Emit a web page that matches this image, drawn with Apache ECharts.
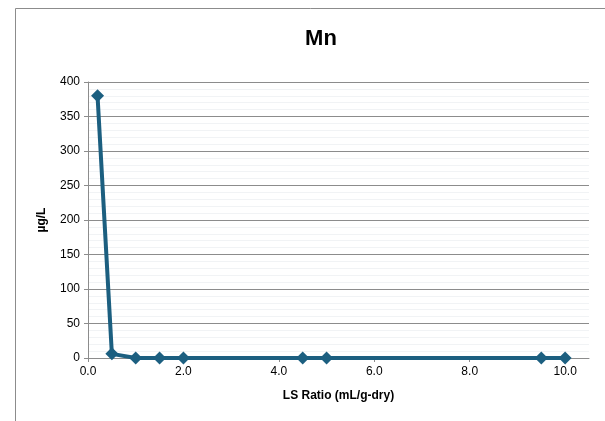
<!DOCTYPE html>
<html><head><meta charset="utf-8">
<script src="https://cdn.jsdelivr.net/npm/echarts@6/dist/echarts.min.js"></script>
<style>html,body{margin:0;padding:0;background:#fff}#c{width:605px;height:421px}</style>
</head><body><div id="c"></div>
<script>
const xValues = [0.2, 0.5, 1.0, 1.5, 2.0, 4.5, 5.0, 9.5, 10.0];
const yValues = [380, 6, 0, 0, 0, 0, 0, 0, 0];
const titleText = 'Mn';
const xName = 'LS Ratio (mL/g-dry)';
const yName = 'µg/L';

const chart = echarts.init(document.getElementById('c'), null, {renderer: 'canvas'});
const font = 'Liberation Sans, Arial, sans-serif';
chart.setOption({
  animation: false,
  backgroundColor: '#fff',
  graphic: [{type: 'rect', shape: {x: 15.5, y: 8.5, width: 620, height: 440}, style: {fill: 'none', stroke: '#8c8c8c', lineWidth: 1}, silent: true}],
  title: {text: titleText, left: 316, top: 23, textAlign: 'center',
    textStyle: {fontFamily: font, fontSize: 22, fontWeight: 'bold', color: '#000'}},
  grid: {left: 88, right: 16, top: 82, bottom: 63},
  xAxis: {type: 'value', min: 0, max: 10.5, interval: 2,
    name: xName, nameLocation: 'middle', nameGap: 32,
    nameTextStyle: {fontFamily: font, fontSize: 12, fontWeight: 'bold', color: '#000'},
    axisLine: {show: true, onZero: false, lineStyle: {color: '#8c8c8c', width: 1}},
    axisTick: {show: true, length: 4, lineStyle: {color: '#8c8c8c'}},
    axisLabel: {fontFamily: font, fontSize: 12, color: '#000', margin: 8, showMaxLabel: false,
      formatter: v => v.toFixed(1)},
    splitLine: {show: false}},
  yAxis: {type: 'value', min: 0, max: 400, interval: 50,
    name: yName, nameLocation: 'middle', nameGap: 40, nameRotate: 90,
    nameTextStyle: {fontFamily: font, fontSize: 12, fontWeight: 'bold', color: '#000'},
    axisLine: {show: true, lineStyle: {color: '#8c8c8c', width: 1}},
    axisTick: {show: true, length: 4, lineStyle: {color: '#8c8c8c'}},
    axisLabel: {fontFamily: font, fontSize: 12, color: '#000', margin: 8},
    splitLine: {show: true, lineStyle: {color: '#8c8c8c', width: 1}},
    minorTick: {show: false, splitNumber: 5},
    minorSplitLine: {show: true, lineStyle: {color: '#f1f3f5', width: 1}}},
  series: [{type: 'line', data: xValues.map((x, i) => [x, yValues[i]]),
    symbol: 'diamond', symbolSize: 13,
    lineStyle: {color: '#1c5f80', width: 4},
    itemStyle: {color: '#1c5f80'}}]
});
</script></body></html>
